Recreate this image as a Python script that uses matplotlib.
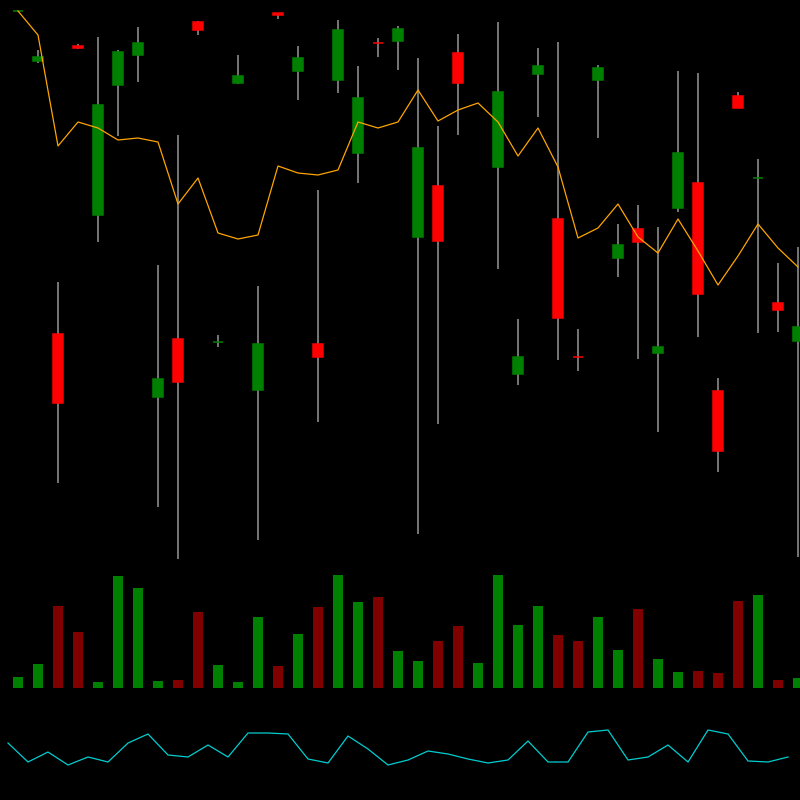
import numpy as np
import matplotlib
matplotlib.use('Agg')
import matplotlib.pyplot as plt

# candle data (price units)
opens = [58.88, 53.9, 26.6, 55.4, 38.5, 51.5, 54.5, 20.3, 26.1, 57.8,
         25.8, 51.7, 21.0, 58.7, 52.9, 25.6, 52.0, 44.7, 55.71, 55.9,
         36.3, 41.4, 54.7, 62.5, 43.3, 22.6, 52.6, 38.1, 24.31, 52.0,
         34.2, 37.1, 24.7, 39.2, 41.7, 20.9, 50.4, 42.2, 29.7, 25.9]
closes = [58.9, 54.3, 19.7, 55.2, 49.5, 54.8, 55.7, 22.1, 21.8, 57.0,
          25.81, 52.4, 25.6, 58.5, 54.2, 24.3, 57.0, 50.2, 55.7, 57.1,
          45.2, 35.9, 51.7, 64.0, 50.8, 24.3, 53.4, 28.2, 24.3, 53.2,
          35.5, 35.8, 25.3, 44.7, 30.6, 14.9, 49.2, 42.21, 29.0, 27.3]
highs = [58.9, 55.0, 31.8, 55.6, 56.3, 55.0, 57.3, 33.5, 46.5, 57.9,
         26.5, 54.5, 31.4, 58.7, 55.4, 41.0, 58.0, 53.4, 56.2, 57.4,
         54.2, 47.4, 56.6, 65.0, 57.8, 28.1, 55.2, 55.8, 27.1, 53.5,
         37.6, 39.5, 37.3, 52.9, 52.7, 22.2, 50.8, 44.1, 33.7, 35.3]
lows = [58.88, 53.7, 11.7, 55.1, 35.8, 46.4, 51.8, 9.3, 4.1, 56.5,
        25.3, 51.6, 6.0, 58.1, 50.0, 17.8, 50.7, 41.7, 54.3, 53.0,
        6.6, 17.6, 46.5, 61.5, 33.1, 21.5, 48.3, 24.0, 22.9, 46.2,
        32.3, 24.1, 16.8, 38.8, 26.3, 12.8, 49.2, 26.7, 26.8, 4.3]
ma = [58.9, 56.5, 45.4, 47.8, 47.2, 46.0, 46.2, 45.8, 39.6, 42.2,
      36.7, 36.1, 36.5, 43.4, 42.7, 42.5, 43.0, 47.8, 47.2, 47.8,
      51.0, 47.9, 49.0, 49.7, 47.8, 44.4, 47.2, 43.3, 36.2, 37.2,
      39.6, 36.3, 34.7, 38.1, 34.9, 31.5, 34.4, 37.6, 35.2, 33.3]
volumes = [1100, 2400, 8200, 5600, 600, 11200, 10000, 700, 800, 7600,
           2300, 600, 7100, 2200, 5400, 8100, 11300, 8600, 9100, 3700,
           2700, 4700, 6200, 2500, 11300, 6300, 8200, 5300, 4700, 7100,
           3800, 7900, 2900, 1600, 1700, 1500, 8700, 9300, 800, 1000]
osc = [57, 38, 48, 35, 43, 38, 57, 66, 45, 43,
       55, 43, 67, 67, 66, 41, 37, 64, 51, 35,
       40, 49, 46, 41, 37, 40, 59, 38, 38, 68,
       70, 40, 43, 55, 38, 70, 66, 39, 38, 43]

n = len(opens)
x = np.arange(n)
up = np.array(closes) >= np.array(opens)

fig = plt.figure(figsize=(8, 8), dpi=100, facecolor='black')

ax = fig.add_axes([0, 0.3, 1, 0.7])
vax = fig.add_axes([0, 0.14, 1, 0.16])
oax = fig.add_axes([0, 0, 1, 0.125])
for a in (ax, vax, oax):
    a.set_facecolor('black')
    a.axis('off')

# candles
ax.vlines(x, lows, highs, color='gray', linewidth=1.3, zorder=1)
body_col = ['green' if u else 'red' for u in up]
bottoms = np.minimum(opens, closes)
heights = np.abs(np.array(closes) - np.array(opens))
ax.bar(x, heights, bottom=bottoms, width=0.5, color=body_col,
       edgecolor=body_col, linewidth=1.1, zorder=2)
ax.plot(x, ma, color='orange', linewidth=0.9, zorder=3)
ax.set_xlim(-0.9, 39.1)
ax.set_ylim(4, 60)

# volume
vol_col = ['green' if u else 'maroon' for u in up]
vax.bar(x, volumes, width=0.5, color=vol_col)
vax.set_xlim(-0.9, 39.1)
vax.set_ylim(0, 12800)

# oscillator
oax.plot(x, osc, color='darkturquoise', linewidth=0.9)
oax.set_xlim(-0.4, 39.6)
oax.set_ylim(0, 100)

fig.savefig('out.png', dpi=100, facecolor='black')
